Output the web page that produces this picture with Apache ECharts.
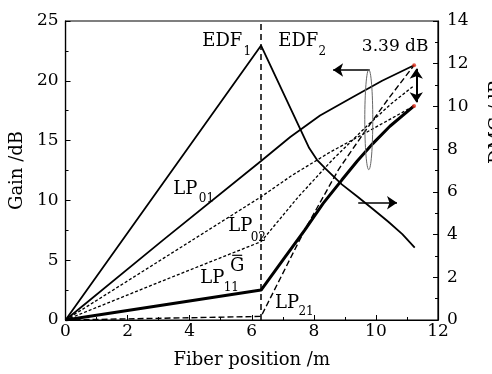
<!DOCTYPE html>
<html>
<head>
<meta charset="utf-8">
<script src="https://cdn.jsdelivr.net/npm/echarts@6/dist/echarts.min.js"></script>
<style>
  html, body { margin: 0; padding: 0; background: #fff; }
  #main { width: 492px; height: 374px; }
</style>
</head>
<body>
<div id="main"></div>
<script>
// fibre position (m) and values
const xDMG = [0, 6.3, 7.85, 8.1, 8.4, 8.9, 9.4, 9.9, 10.4, 10.85, 11.25]
const yDMG = [0, 12.85, 8.05, 7.5, 7.05, 6.35, 5.78, 5.2, 4.6, 4.02, 3.39]

const xLP01 = [0, 3.15, 6.3, 7.24, 8.2, 9.23, 10.2, 11.23]
const yLP01 = [0, 6.7, 13.3, 15.3, 17.1, 18.6, 20.0, 21.3]

const xLP02 = [0, 3.15, 6.3, 7.3, 8.5, 9.7, 11.23]
const yLP02 = [0, 5.15, 10.3, 12.1, 14.0, 15.7, 17.9]

const xMean = [0, 3.15, 6.3, 7.5, 8.6, 9.7, 10.5, 11.23]
const yMean = [0, 3.3, 6.55, 10.3, 13.4, 16.2, 18.1, 19.6]

const xLP11 = [0, 6.3, 7.0, 7.7, 8.3, 8.9, 9.4, 9.9, 10.45, 11.23]
const yLP11 = [0, 2.5, 5.0, 7.5, 9.75, 11.7, 13.3, 14.75, 16.2, 17.9]

const xLP21 = [0, 6.3, 7.0, 7.7, 8.8, 9.6, 10.4, 11.23]
const yLP21 = [0, 0.3, 3.9, 7.5, 12.6, 15.6, 18.5, 21.3]

const edfSplit = 6.3
const endGain = [[11.23, 21.3], [11.23, 17.9]]
const dmgEnd = '3.39 dB'

const FONT = 'DejaVu Serif'

function pairs(xs, ys) {
  return xs.map((x, i) => [x, ys[i]])
}

function arrowLine(from, to, both, width) {
  return {
    silent: true,
    symbol: both ? ['arrow', 'arrow'] : ['none', 'arrow'],
    symbolSize: 10,
    label: { show: false },
    lineStyle: { color: '#000', width: width, type: 'solid' },
    data: [[{ coord: from }, { coord: to }]]
  }
}

function gainLine(name, xs, ys, width, type, extra) {
  return Object.assign({
    name: name,
    type: 'line',
    data: pairs(xs, ys),
    showSymbol: false,
    symbol: 'none',
    silent: true,
    lineStyle: { color: '#000', width: width, type: type },
    z: 3
  }, extra || {})
}

var myChart = echarts.init(document.getElementById('main'))

var axisCommon = {
  axisLine: { show: true, lineStyle: { color: '#000', width: 1.2 } },
  axisTick: { show: true, inside: true, length: 5, lineStyle: { color: '#000' } },
  minorTick: { show: true, splitNumber: 2, length: 3, lineStyle: { color: '#000' } },
  splitLine: { show: false },
  axisLabel: { color: '#000', fontFamily: FONT, fontSize: 17 },
  nameTextStyle: { color: '#000', fontFamily: FONT, fontSize: 18 }
}

var option = {
  animation: false,
  backgroundColor: '#fff',
  grid: { left: 65, right: 54, top: 21, bottom: 52, show: true, borderColor: '#000', borderWidth: 1.2 },
  xAxis: Object.assign({}, axisCommon, {
    type: 'value', min: 0, max: 12, interval: 2,
    name: 'Fiber position /m', nameLocation: 'middle', nameGap: 31,
    axisLabel: Object.assign({}, axisCommon.axisLabel, { margin: 3 })
  }),
  yAxis: [
    Object.assign({}, axisCommon, {
      type: 'value', min: 0, max: 25, interval: 5, position: 'left',
      name: 'Gain /dB', nameLocation: 'middle', nameGap: 34,
      axisLabel: Object.assign({}, axisCommon.axisLabel, { margin: 7 })
    }),
    Object.assign({}, axisCommon, {
      type: 'value', min: 0, max: 14, interval: 2, position: 'right',
      axisLabel: Object.assign({}, axisCommon.axisLabel, { margin: 9 })
    })
  ],
  series: [
    gainLine('DMG', xDMG, yDMG, 1.8, 'solid', {
      yAxisIndex: 1,
      markLine: arrowLine([9.43, 5.49], [10.68, 5.49], false, 1.5)
    }),
    gainLine('LP01', xLP01, yLP01, 1.8, 'solid', {
      markLine: arrowLine([9.8, 20.9], [8.62, 20.9], false, 1.5)
    }),
    gainLine('LP02', xLP02, yLP02, 1.3, [3, 2]),
    gainLine('G', xMean, yMean, 1.3, [3, 2]),
    gainLine('LP11', xLP11, yLP11, 3, 'solid', {
      markLine: arrowLine([11.3, 21.0], [11.3, 18.2], true, 2)
    }),
    gainLine('LP21', xLP21, yLP21, 1.4, [6, 3], {
      markLine: {
        silent: true, symbol: 'none',
        label: { show: false },
        lineStyle: { color: '#000', width: 1.5, type: [6, 4] },
        data: [{ xAxis: edfSplit }]
      }
    }),
    {
      type: 'scatter', data: endGain, symbolSize: 4, silent: true,
      itemStyle: { color: '#e0301e' }, z: 5
    }
  ]
}

myChart.setOption(option)

// text annotations, positioned in data coordinates of the gain axis
const notes = [
  ['EDF', 5.05, 23.26, 18], ['1', 5.86, 22.43, 12],
  ['EDF', 7.5, 23.26, 18], ['2', 8.27, 22.43, 12],
  [dmgEnd, 10.62, 22.84, 17],
  ['LP', 3.86, 10.96, 18], ['01', 4.54, 10.13, 12],
  ['LP', 5.63, 7.81, 18], ['02', 6.21, 6.89, 12],
  ['G', 5.53, 4.49, 18],
  ['LP', 4.73, 3.49, 18], ['11', 5.34, 2.66, 12],
  ['LP', 7.14, 1.41, 18], ['21', 7.75, 0.66, 12]
]

function px(p) {
  return myChart.convertToPixel({ xAxisIndex: 0, yAxisIndex: 0 }, p)
}

var graphics = notes.map(n => {
  var p = px([n[1], n[2]])
  return {
    type: 'text', x: p[0], y: p[1], z: 10, silent: true,
    style: { text: n[0], font: n[3] + 'px "' + FONT + '"', fill: '#000', textAlign: 'center', textVerticalAlign: 'middle' }
  }
})

// bar over the mean-gain G
var g = px([5.53, 4.49])
graphics.push({
  type: 'line', z: 10, silent: true,
  shape: { x1: g[0] - 5, y1: g[1] - 11, x2: g[0] + 5, y2: g[1] - 11 },
  style: { stroke: '#000', lineWidth: 1.2 }
})

var c = px([9.77, 16.75])
graphics.push({
  type: 'ellipse', z: 9, silent: true,
  shape: { cx: c[0], cy: c[1], rx: 4, ry: 50 },
  style: { fill: 'none', stroke: '#666', lineWidth: 1 }
})

graphics.push({
  type: 'text', x: 497, y: 122, rotation: Math.PI / 2, z: 10, silent: true,
  style: { text: 'DMG /dB', font: '18px "' + FONT + '"', fill: '#000', textAlign: 'center', textVerticalAlign: 'middle' }
})

myChart.setOption({ graphic: graphics })
</script>
</body>
</html>
